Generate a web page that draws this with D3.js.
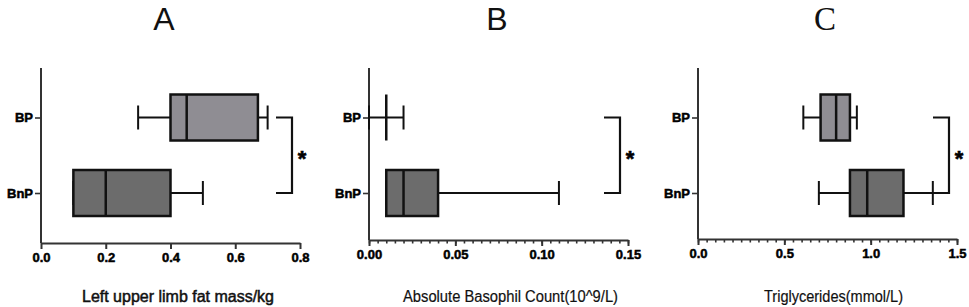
<!DOCTYPE html>
<html>
<head>
<meta charset="utf-8">
<script src="https://cdn.jsdelivr.net/npm/d3@7"></script>
<style>
  html, body { margin: 0; padding: 0; background: #fff; }
  svg { display: block; }
</style>
</head>
<body>
<svg id="chart" width="969" height="307"></svg>
<script>
// ---- data ----
const categories = ["BP", "BnP"];
const panelTitles = ["A", "B", "C"];
const axisLabels = ["Left upper limb fat mass/kg", "Absolute Basophil Count(10^9/L)", "Triglycerides(mmol/L)"];
// five-number summaries: [min, q1, median, q3, max]
const statsA_BP  = [0.30, 0.40, 0.45, 0.67, 0.70];
const statsA_BnP = [0.10, 0.10, 0.20, 0.40, 0.50];
const statsB_BP  = [0.00, 0.01, 0.01, 0.01, 0.02];
const statsB_BnP = [0.01, 0.01, 0.02, 0.04, 0.11];
const statsC_BP  = [0.61, 0.71, 0.80, 0.88, 0.92];
const statsC_BnP = [0.70, 0.88, 0.98, 1.19, 1.36];
const domainA = [0, 0.8], domainB = [0, 0.15], domainC = [0, 1.5];
const ticksA = [0, 0.2, 0.4, 0.6, 0.8];
const ticksB = [0, 0.05, 0.10, 0.15];
const ticksC = [0, 0.5, 1.0, 1.5];
const minorStepB = 0.005, minorStepC = 0.05;
const sigLabel = "*";

// ---- layout ----
const SANS = "'Liberation Sans', Arial, Helvetica, sans-serif";
const SERIF = "'Liberation Serif', 'Times New Roman', serif";
const svg = d3.select("#chart");
const panels = [
  { title: panelTitles[0], label: axisLabels[0], stats: [statsA_BP, statsA_BnP], domain: domainA, ticks: ticksA, fmt: d3.format(".1f"), minor: null,
    x0: 41, x1: 300, top: 68, bottom: 243, titleX: 164, titleFont: SANS, titleSize: 32, labelX: 178, labelW: 192, labelStroke: 0.5 },
  { title: panelTitles[1], label: axisLabels[1], stats: [statsB_BP, statsB_BnP], domain: domainB, ticks: ticksB, fmt: d3.format(".2f"), minor: minorStepB,
    x0: 369, x1: 628, top: 68, bottom: 240, titleX: 497, titleFont: SANS, titleSize: 32, labelX: 510.5, labelW: 215, labelStroke: 0.2 },
  { title: panelTitles[2], label: axisLabels[2], stats: [statsC_BP, statsC_BnP], domain: domainC, ticks: ticksC, fmt: d3.format(".1f"), minor: minorStepC,
    x0: 698, x1: 957, top: 68, bottom: 239, titleX: 825, titleFont: SERIF, titleSize: 33, labelX: 833.5, labelW: 139, labelStroke: 0.2 }
];
const fills = ["#8f8d93", "#6c6c6c"];
const boxH = 46, capH = 24;

panels.forEach(p => {
  const g = svg.append("g");
  const x = d3.scaleLinear().domain(p.domain).range([p.x0, p.x1]);
  const y = d3.scalePoint().domain(categories).range([117.5, 193]);

  // title
  g.append("text").attr("x", p.titleX).attr("y", 29.5)
    .attr("text-anchor", "middle")
    .style("font-family", p.titleFont).style("font-size", p.titleSize + "px")
    .attr("fill", "#111").text(p.title);

  // minor ticks
  if (p.minor) {
    const n = Math.round((p.domain[1] - p.domain[0]) / p.minor);
    const minorVals = d3.range(n + 1).map(i => p.domain[0] + i * p.minor);
    g.append("g").attr("transform", `translate(0,${p.bottom})`)
      .call(d3.axisBottom(x).tickValues(minorVals).tickSize(3.5).tickFormat(""))
      .call(a => a.select(".domain").remove())
      .call(a => a.selectAll("line").attr("stroke", "#333").attr("stroke-width", 1.6));
  }
  // x axis
  const xa = g.append("g").attr("transform", `translate(0,${p.bottom})`)
    .call(d3.axisBottom(x).tickValues(p.ticks).tickFormat(p.fmt).tickSize(6).tickSizeOuter(0).tickPadding(4));
  xa.select(".domain").attr("stroke", "#333").attr("stroke-width", 2);
  xa.selectAll("line").attr("stroke", "#333").attr("stroke-width", 2);
  xa.selectAll("text").style("font-family", SANS)
    .style("font-size", "13px").style("font-weight", "bold").attr("fill", "#000")
    .attr("stroke", "#000").attr("stroke-width", 0.5);

  // y axis
  const ya = g.append("g").attr("transform", `translate(${p.x0},0)`)
    .call(d3.axisLeft(y).tickSize(6).tickSizeOuter(0).tickPadding(2));
  ya.select(".domain").attr("d", `M0,${p.top}V${p.bottom}`).attr("stroke", "#333").attr("stroke-width", 2);
  ya.selectAll("line").attr("stroke", "#333").attr("stroke-width", 1.6);
  ya.selectAll("text").style("font-family", SANS)
    .style("font-size", "13px").style("font-weight", "bold").attr("fill", "#000")
    .attr("stroke", "#000").attr("stroke-width", 0.5);

  // boxes
  categories.forEach((c, i) => {
    const s = p.stats[i];
    const cy = y(c);
    const bg = g.append("g").attr("stroke", "#111").attr("fill", "none");
    // whiskers
    bg.append("line").attr("x1", x(s[0])).attr("x2", x(s[1])).attr("y1", cy).attr("y2", cy).attr("stroke-width", 2);
    bg.append("line").attr("x1", x(s[3])).attr("x2", x(s[4])).attr("y1", cy).attr("y2", cy).attr("stroke-width", 2);
    [s[0], s[4]].forEach(v => {
      bg.append("line").attr("x1", x(v)).attr("x2", x(v)).attr("y1", cy - capH / 2).attr("y2", cy + capH / 2).attr("stroke-width", 2);
    });
    // box
    bg.append("rect").attr("x", x(s[1])).attr("y", cy - boxH / 2)
      .attr("width", Math.max(0, x(s[3]) - x(s[1]))).attr("height", boxH)
      .attr("fill", fills[i]).attr("stroke-width", 2.5);
    // median
    bg.append("line").attr("x1", x(s[2])).attr("x2", x(s[2])).attr("y1", cy - boxH / 2).attr("y2", cy + boxH / 2).attr("stroke-width", 2.5);
  });

  // significance bracket
  const bx0 = p.x1 - 24, bx1 = p.x1 - 8;
  g.append("path")
    .attr("d", `M${bx0},${y(categories[0])}H${bx1}V${y(categories[1])}H${bx0}`)
    .attr("fill", "none").attr("stroke", "#111").attr("stroke-width", 2.2);
  g.append("text").attr("x", p.x1 + 2).attr("y", (y(categories[0]) + y(categories[1])) / 2 + 11)
    .attr("text-anchor", "middle")
    .style("font-family", SANS).style("font-size", "22px").style("font-weight", "bold")
    .attr("fill", "#000").attr("stroke", "#000").attr("stroke-width", 0.6).text(sigLabel);

  // axis title
  g.append("text").attr("x", p.labelX).attr("y", 301.5)
    .attr("text-anchor", "middle")
    .attr("textLength", p.labelW).attr("lengthAdjust", "spacingAndGlyphs")
    .style("font-family", SANS).style("font-size", "16px")
    .attr("fill", "#111").attr("stroke", "#111").attr("stroke-width", p.labelStroke).text(p.label);
});
</script>
</body>
</html>
